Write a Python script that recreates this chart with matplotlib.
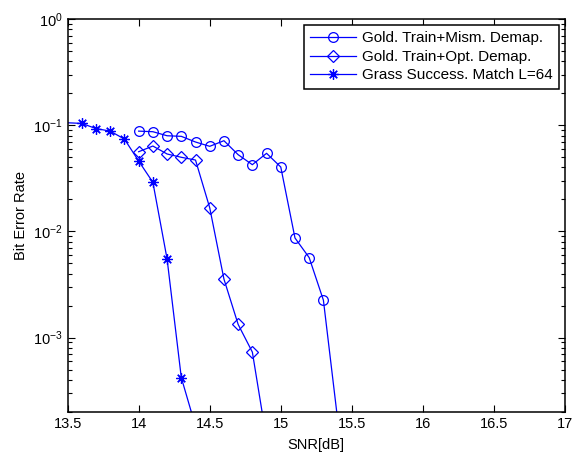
import matplotlib
matplotlib.use("Agg")
import matplotlib.pyplot as plt
from matplotlib.ticker import LogLocator, FixedLocator, NullFormatter

plt.rcParams['font.family'] = ['Liberation Sans', 'DejaVu Sans']
plt.rcParams['mathtext.fontset'] = 'custom'
plt.rcParams['mathtext.rm'] = 'Liberation Sans'

# Data
snr_mism = [14.0, 14.1, 14.2, 14.3, 14.4, 14.5, 14.6, 14.7, 14.8, 14.9, 15.0, 15.1, 15.2, 15.3, 15.4]
ber_mism = [0.088, 0.0869, 0.0796, 0.0786, 0.0695, 0.0633, 0.0715, 0.0528, 0.0425, 0.0544, 0.0404,
            0.00867, 0.00566, 0.00225, 1.7e-4]

snr_opt = [14.0, 14.1, 14.2, 14.3, 14.4, 14.5, 14.6, 14.7, 14.8, 14.9]
ber_opt = [0.0563, 0.0637, 0.0536, 0.0499, 0.047, 0.0167, 0.00356, 0.00133, 7.3e-4, 1.1e-4]

snr_grass = [13.4, 13.6, 13.7, 13.8, 13.9, 14.0, 14.1, 14.2, 14.3, 14.4]
ber_grass = [0.107, 0.104, 0.093, 0.088, 0.074, 0.046, 0.029, 0.0055, 4.2e-4, 1.46e-4]

labels = ["Gold. Train+Mism. Demap.", "Gold. Train+Opt. Demap.", "Grass Success. Match L=64"]
xticks = [13.5, 14, 14.5, 15, 15.5, 16, 16.5, 17]
xticklabels = ["13.5", "14", "14.5", "15", "15.5", "16", "16.5", "17"]

fig = plt.figure(figsize=(5.73, 4.54), dpi=100)
ax = fig.add_axes([0.118, 0.093, 0.868, 0.865])

blue = (0, 0, 1)
ax.semilogy(snr_mism, ber_mism, color=blue, lw=0.9, marker='o', ms=7, mfc='none', mec=blue, mew=0.9, label=labels[0])
ax.semilogy(snr_opt, ber_opt, color=blue, lw=0.9, marker='D', ms=6, mfc='none', mec=blue, mew=0.9, label=labels[1])
ax.semilogy(snr_grass, ber_grass, color=blue, lw=0.9, marker=(8, 2, 0), ms=7.5, mfc='none', mec=blue, mew=0.9, label=labels[2])

ax.set_xlim(13.5, 17)
ax.set_ylim(2.0e-4, 1.0)
ax.xaxis.set_major_locator(FixedLocator(xticks))
ax.set_xticklabels(xticklabels)
ax.yaxis.set_major_locator(LogLocator(base=10, numticks=10))
ax.yaxis.set_minor_locator(LogLocator(base=10, subs=range(2, 10), numticks=20))
ax.yaxis.set_minor_formatter(NullFormatter())

ax.tick_params(which='both', direction='in', top=True, right=True, labelsize=10.5, width=0.8)
ax.tick_params(which='major', length=5)
ax.tick_params(which='minor', length=3)
for s in ax.spines.values():
    s.set_linewidth(1.1)

ax.set_xlabel("SNR[dB]", fontsize=10.5, labelpad=5)
ax.set_ylabel("Bit Error Rate", fontsize=10.5, labelpad=4)

leg = ax.legend(loc='upper right', fontsize=11, frameon=True, fancybox=False, framealpha=1,
                edgecolor='black', borderaxespad=0.4, handlelength=3.0, labelspacing=0.3,
                borderpad=0.4, handletextpad=0.4)
leg.get_frame().set_linewidth(1.1)

fig.savefig("out.png", dpi=100)
